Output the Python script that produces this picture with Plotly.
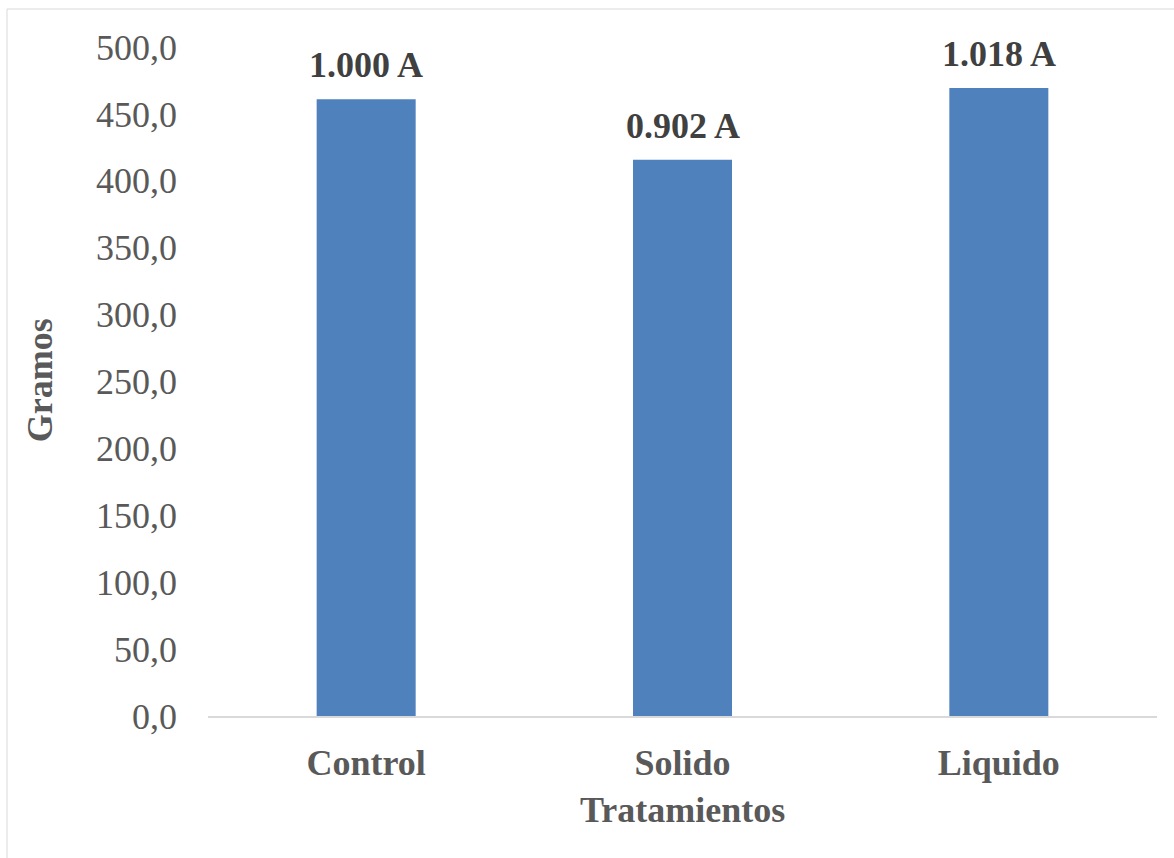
import plotly.graph_objects as go

# Treatments and mean weight (grams)
tratamientos = ["Control", "Solido", "Liquido"]
gramos = [461.0, 415.8, 469.3]
# Relative value and significance group shown above each bar
etiquetas = ["1.000 A", "0.902 A", "1.018 A"]
y_ticks = [0, 50, 100, 150, 200, 250, 300, 350, 400, 450, 500]

FONT = "Liberation Serif"
GRIS = "#595959"

fig = go.Figure(
    go.Bar(
        x=tratamientos,
        y=gramos,
        width=0.313,
        marker=dict(color="#4f81bd", line=dict(width=0)),
        hoverinfo="x+y",
    )
)

# Data labels above each bar
for cat, val, txt in zip(tratamientos, gramos, etiquetas):
    fig.add_annotation(
        x=cat, y=val, text=f"<b>{txt}</b>", showarrow=False,
        xanchor="center", yanchor="bottom", yshift=12,
        font=dict(family=FONT, size=36, color="#404040"),
    )

# Axis titles
fig.add_annotation(
    x=-0.177, y=0.502, xref="paper", yref="paper", text="<b>Gramos</b>",
    textangle=-90, showarrow=False, xanchor="center", yanchor="middle",
    font=dict(family=FONT, size=36, color=GRIS),
)
fig.add_annotation(
    x=0.5, y=-0.1405, xref="paper", yref="paper", text="<b>Tratamientos</b>",
    showarrow=False, xanchor="center", yanchor="middle",
    font=dict(family=FONT, size=36, color=GRIS),
)

# Chart-area border
fig.add_shape(
    type="rect", xref="paper", yref="paper",
    x0=-0.2118, x1=1.03, y0=-0.25, y1=1.0568,
    line=dict(color="#d9d9d9", width=1), fillcolor="rgba(0,0,0,0)", layer="below",
)

fig.update_layout(
    width=1174, height=858,
    margin=dict(l=208, r=17, t=47, b=142),
    paper_bgcolor="white", plot_bgcolor="white",
    separators=",.",
    showlegend=False,
    font=dict(family=FONT),
)
fig.update_xaxes(
    showgrid=False, zeroline=False,
    showline=True, linecolor="#d9d9d9", linewidth=1.5,
    ticks="", ticklabelstandoff=14,
    tickfont=dict(family=FONT, size=36, color=GRIS),
    tickprefix="<b>", ticksuffix="</b>",
)
fig.update_yaxes(
    range=[0, 500], tickvals=y_ticks, tickformat=".1f",
    showgrid=False, zeroline=False, showline=False, ticks="",
    ticklabelstandoff=30,
    tickfont=dict(family=FONT, size=36, color=GRIS),
)

fig.write_html("out.html")
